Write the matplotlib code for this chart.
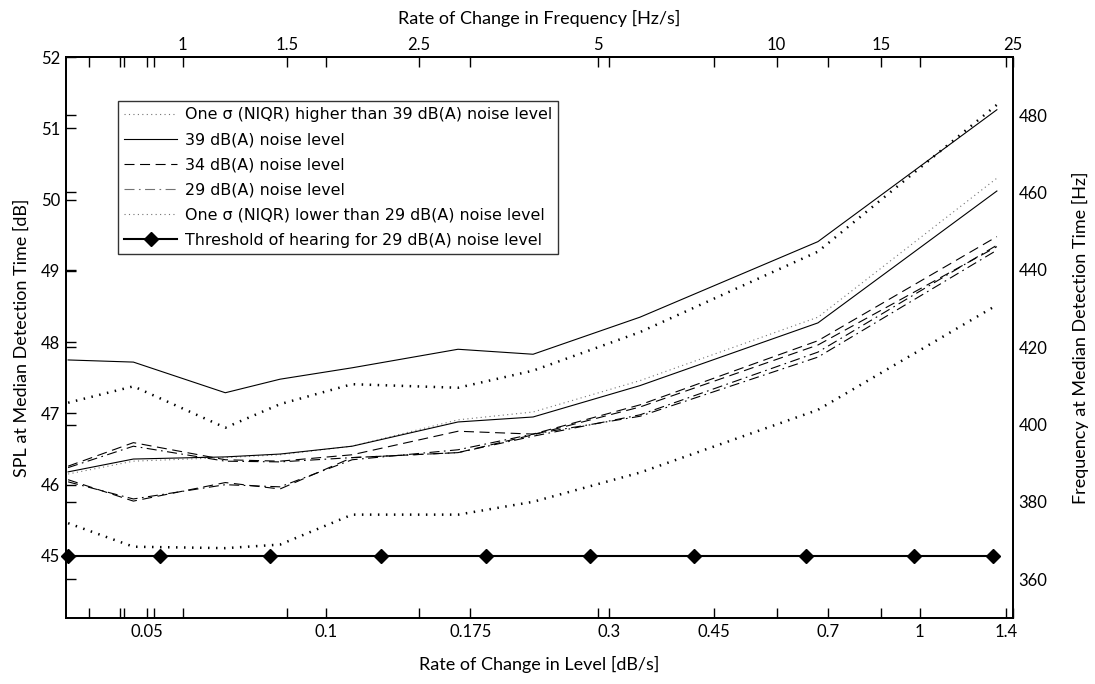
import matplotlib
matplotlib.use('Agg')
import matplotlib.pyplot as plt
from matplotlib.lines import Line2D
from matplotlib.ticker import FixedLocator, NullFormatter

# ---------------- data ----------------
# Rate of change in level [dB/s] of the curve vertices
rate_level = [0.0368, 0.0474, 0.0677, 0.0837, 0.1107, 0.1669, 0.2233, 0.338, 0.674, 1.349]
# SPL at median detection time [dB]
sigma_high_a = [47.15, 47.38, 46.80, 47.13, 47.41, 47.36, 47.60, 48.14, 49.27, 51.33]
noise39_a = [47.75, 47.72, 47.29, 47.48, 47.64, 47.90, 47.83, 48.35, 49.41, 51.26]
sigma_high_b = [46.15, 46.33, 46.38, 46.42, 46.54, 46.91, 47.02, 47.46, 48.35, 50.30]
noise39_b = [46.18, 46.36, 46.39, 46.43, 46.54, 46.88, 46.95, 47.39, 48.27, 50.12]
noise34_a = [46.26, 46.59, 46.35, 46.33, 46.42, 46.75, 46.71, 47.12, 48.02, 49.48]
noise29_a = [46.24, 46.54, 46.33, 46.32, 46.38, 46.45, 46.68, 46.98, 47.86, 49.36]
noise34_b = [46.07, 45.77, 46.03, 45.94, 46.38, 46.45, 46.70, 47.09, 47.96, 49.34]
noise29_b = [46.04, 45.80, 46.00, 45.97, 46.35, 46.49, 46.71, 46.96, 47.79, 49.29]
sigma_low = [45.46, 45.13, 45.11, 45.16, 45.58, 45.58, 45.76, 46.17, 47.05, 48.52]
threshold_rate = [0.0368, 0.0526, 0.0805, 0.124, 0.186, 0.278, 0.417, 0.643, 0.977, 1.33]
threshold_spl = [45, 45, 45, 45, 45, 45, 45, 45, 45, 45]

level_ticks = [0.05, 0.1, 0.175, 0.3, 0.45, 0.7, 1, 1.4]
level_labels = ['0.05', '0.1', '0.175', '0.3', '0.45', '0.7', '1', '1.4']
freq_rate_ticks = [1, 1.5, 2.5, 5, 10, 15, 25]
freq_rate_labels = ['1', '1.5', '2.5', '5', '10', '15', '25']
extra_level_ticks = [0.0399, 0.0450, 0.0457, 0.0514]
spl_ticks = [45, 46, 47, 48, 49, 50, 51, 52]
freq_ticks = [360, 380, 400, 420, 440, 460, 480]

legend_labels = ['One \u03c3 (NIQR) higher than 39 dB(A) noise level',
                 '39 dB(A) noise level',
                 '34 dB(A) noise level',
                 '29 dB(A) noise level',
                 'One \u03c3 (NIQR) lower than 29 dB(A) noise level',
                 'Threshold of hearing for 29 dB(A) noise level']

# ---------------- scales ----------------
K = 17.42                     # Hz/s per dB/s
X_LIM = (0.0365, 1.436)
SPL_LIM = (44.13, 52.0)
FREQ_LIM = (350.0, 495.0)
def hz_to_db(f):
    return SPL_LIM[0] + (f - FREQ_LIM[0]) * (SPL_LIM[1] - SPL_LIM[0]) / (FREQ_LIM[1] - FREQ_LIM[0])

plt.rcParams['font.family'] = ['Lato', 'DejaVu Sans']

W, H = 1095, 684
fig = plt.figure(figsize=(W / 100, H / 100), dpi=100)
ax = fig.add_axes([66 / W, 1 - 618 / H, 947 / W, 561 / H])
ax.set_xscale('log')
ax.set_xlim(*X_LIM)
ax.set_ylim(*SPL_LIM)

thick_dot = (0, (0.6, 2.6))
thin_dot = (0, (1, 3))
dashed = (0, (9, 5))
dashdot = (0, (9, 4, 1.5, 4))

ax.plot(rate_level, sigma_high_a, color='black', lw=1.8, ls=thick_dot)
ax.plot(rate_level, noise39_a, color='black', lw=0.8)
ax.plot(rate_level, sigma_high_b, color='0.45', lw=0.8, ls=thin_dot)
ax.plot(rate_level, noise39_b, color='black', lw=0.8)
ax.plot(rate_level, noise34_a, color='black', lw=0.8, ls=dashed)
ax.plot(rate_level, noise29_a, color='black', lw=0.8, ls=dashdot)
ax.plot(rate_level, noise34_b, color='black', lw=0.8, ls=dashed)
ax.plot(rate_level, noise29_b, color='black', lw=0.8, ls=dashdot)
ax.plot(rate_level, sigma_low, color='black', lw=1.8, ls=thick_dot)
ax.plot(threshold_rate, threshold_spl, color='black', lw=1.5, marker='D', ms=7,
        clip_on=False, zorder=5)

# ticks: x
hz_as_level = [f / K for f in freq_rate_ticks]
ax.xaxis.set_major_locator(FixedLocator(level_ticks))
ax.set_xticklabels(level_labels)
ax.xaxis.set_minor_locator(FixedLocator(hz_as_level + extra_level_ticks))
ax.xaxis.set_minor_formatter(NullFormatter())
# ticks: y
ax.set_yticks(spl_ticks)
ax.set_yticklabels([str(v) for v in spl_ticks])
ax.yaxis.set_minor_locator(FixedLocator([hz_to_db(f) for f in freq_ticks]))
ax.tick_params(which='both', direction='in', length=7, width=1, top=True, right=True,
               labelsize=12, pad=4)

ax2 = ax.twinx()
ax2.set_ylim(*FREQ_LIM)
ax2.set_yticks(freq_ticks)
ax2.tick_params(length=0, labelsize=12, pad=4)

sec = ax.secondary_xaxis('top', functions=(lambda x: x * K, lambda x: x / K))
sec.xaxis.set_major_locator(FixedLocator(freq_rate_ticks))
sec.set_xticklabels(freq_rate_labels)
sec.xaxis.set_minor_locator(FixedLocator([]))
sec.tick_params(length=0, labelsize=12, pad=3)

for a in (ax, ax2):
    for s in a.spines.values():
        s.set_linewidth(1.3)
sec.spines['top'].set_linewidth(1.3)

ax.set_xlabel('Rate of Change in Level [dB/s]', fontsize=13, labelpad=12)
sec.set_xlabel('Rate of Change in Frequency [Hz/s]', fontsize=13, labelpad=9)
ax.set_ylabel('SPL at Median Detection Time [dB]', fontsize=13, labelpad=8)
ax2.set_ylabel('Frequency at Median Detection Time [Hz]', fontsize=13, labelpad=18)

handles = [Line2D([], [], color='0.45', lw=0.8, ls=thin_dot),
           Line2D([], [], color='black', lw=0.8),
           Line2D([], [], color='black', lw=0.8, ls=dashed),
           Line2D([], [], color='0.45', lw=0.8, ls=dashdot),
           Line2D([], [], color='0.45', lw=0.8, ls=thin_dot),
           Line2D([], [], color='black', lw=1.5, marker='D', ms=7)]
leg = ax.legend(handles, legend_labels, loc='upper left', bbox_to_anchor=(0.055, 0.9216),
                borderaxespad=0, frameon=True, fancybox=False, shadow=False,
                prop={'family': ['DejaVu Sans'], 'size': 11.4}, handlelength=3.3,
                handletextpad=0.5, labelspacing=0.64, borderpad=0.4)
leg.get_frame().set_edgecolor('black')
leg.get_frame().set_linewidth(1.0)

fig.savefig('out.png', dpi=100)
